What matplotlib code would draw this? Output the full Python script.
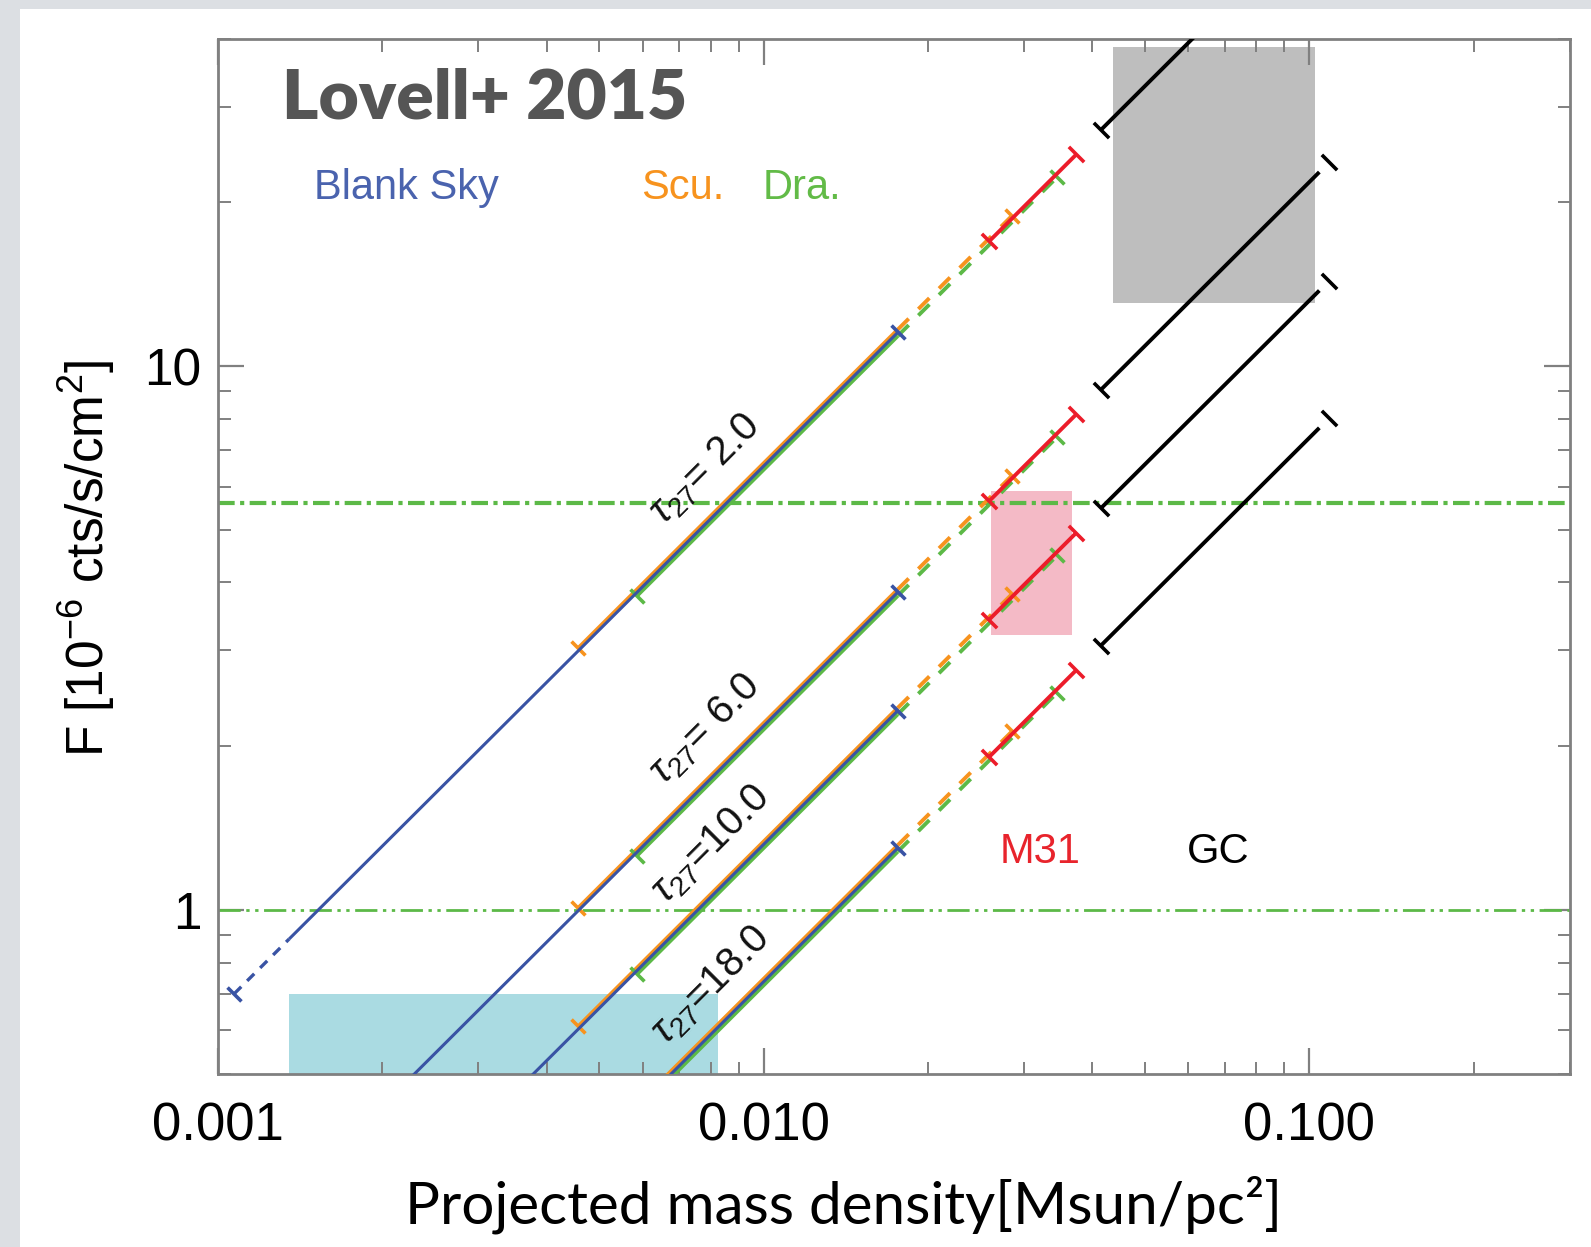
import numpy as np
import matplotlib
matplotlib.use("Agg")
import matplotlib.pyplot as plt
from matplotlib.path import Path
from matplotlib.patches import Rectangle
from matplotlib.ticker import FixedLocator, FixedFormatter, LogLocator, NullFormatter

plt.rcParams['font.family'] = ['Liberation Sans', 'DejaVu Sans']
plt.rcParams['mathtext.fontset'] = 'custom'
plt.rcParams['mathtext.rm'] = 'Liberation Sans'
plt.rcParams['mathtext.it'] = 'Liberation Sans:italic'

# --- data ---
tau_values = [2.0, 6.0, 10.0, 18.0]
tau_text = [r"$\tau_{27}$= 2.0", r"$\tau_{27}$= 6.0", r"$\tau_{27}$=10.0", r"$\tau_{27}$=18.0"]
flux_at_001 = [6.55, 2.18, 1.32, 0.738]   # F of each tau line at Sigma = 0.01 (lines have slope 1)

# Sigma ranges [Msun/pc^2] of each target's segment
blank_dashed = [0.00107, 0.00135]
blank_solid = [0.00135, 0.0176]
blank_marks = [0.00107, 0.0176]
scu_solid = [0.00457, 0.0176]
scu_dashed = [0.0176, 0.0285]
scu_marks = [0.00457, 0.0285]
dra_solid = [0.00585, 0.0176]
dra_dashed = [0.0176, 0.0345]
dra_marks = [0.00585, 0.0345]
m31_solid = [0.0259, 0.0374]
m31_marks = [0.0259, 0.0374]
gc_solid = [0.0415, 0.1043]
gc_marks = [0.0415, 0.1088]

# small vertical offsets between overlapping target lines
scu_shift = 1.012
dra_shift = 0.985

# Dra. flux limits (horizontal lines)
dra_limits = [5.6, 1.0]

# shaded regions: (Sigma_lo, Sigma_hi, F_lo, F_hi)
dsph_box = [0.00135, 0.00825, 0.45, 0.70]
m31_box = [0.0261, 0.0367, 3.20, 5.90]
gc_box = [0.0436, 0.1022, 13.05, 38.6]

xtick_values = [0.001, 0.01, 0.1]
xtick_labels = ["0.001", "0.010", "0.100"]
ytick_values = [1, 10]
ytick_labels = ["1", "10"]

BLUE = '#3953A4'
ORANGE = '#F7931E'
GREEN = '#5CB947'
RED = '#EC1C2A'

fig = plt.figure(figsize=(15.91, 12.47), dpi=100)
fig.patch.set_facecolor('#DCDFE3')
fig.add_artist(Rectangle((20 / 1591, 0), 1, 1 - 9 / 1247, transform=fig.transFigure,
                         facecolor='white', edgecolor='none', zorder=-10))
ax = fig.add_axes([0.1371, 0.1391, 0.8495, 0.8299])
ax.set_xscale('log')
ax.set_yscale('log')
ax.set_xlim(0.001, 0.3)
ax.set_ylim(0.5, 40)

# perpendicular bar marker (lines run at 45 deg on screen)
bar = Path([(-1, 1), (1, -1)], [Path.MOVETO, Path.LINETO])

for box, col in [(dsph_box, '#AADBE2'), (m31_box, '#F4BAC6'), (gc_box, '#BEBEBE')]:
    ax.add_patch(Rectangle((box[0], box[2]), box[1] - box[0], box[3] - box[2],
                           facecolor=col, edgecolor='none', zorder=1))

ax.axhline(dra_limits[0], color=GREEN, lw=3, ls=(0, (4.0, 1.3, 1.0, 1.3)), zorder=2)
ax.axhline(dra_limits[1], color=GREEN, lw=2, ls=(0, (8, 2, 1.2, 2, 1.2, 2)), zorder=2)


def segment(rng, norm, color, ls, lw, z):
    s = np.array(rng)
    ax.plot(s, norm * s / 0.01, color=color, ls=ls, lw=lw, zorder=z,
            solid_capstyle='butt', dash_capstyle='butt')


def marks(pts, norm, color, ms, z):
    s = np.array(pts)
    ax.plot(s, norm * s / 0.01, ls='none', marker=bar, ms=ms, mec=color, mew=2.6, zorder=z)


for norm in flux_at_001:
    segment(blank_dashed, norm, BLUE, (0, (3, 2.5)), 2.4, 4)
    segment(blank_solid, norm, BLUE, '-', 2.2, 4)
    marks(blank_marks, norm, BLUE, 10, 4)
    segment(scu_solid, norm * scu_shift, ORANGE, '-', 2.8, 3)
    segment(scu_dashed, norm * scu_shift, ORANGE, (0, (4, 3.5)), 2.8, 3)
    marks(scu_marks, norm * scu_shift, ORANGE, 10, 3)
    segment(dra_solid, norm * dra_shift, GREEN, '-', 2.8, 3.5)
    segment(dra_dashed, norm * dra_shift, GREEN, (0, (4, 3.5)), 2.8, 3.5)
    marks(dra_marks, norm * dra_shift, GREEN, 10, 3.5)
    segment(m31_solid, norm, RED, '-', 2.8, 5)
    marks(m31_marks, norm, RED, 11, 5)
    segment(gc_solid, norm, 'black', '-', 2.8, 5)
    marks(gc_marks, norm, 'black', 11, 5)

# tau labels
tau_label_x = [0.0078, 0.0078, 0.0080, 0.0080]
tau_label_y = [6.46, 2.15, 1.32, 0.725]
for tx, ty, t in zip(tau_label_x, tau_label_y, tau_text):
    ax.text(tx, ty, t, rotation=45, rotation_mode='anchor', ha='center', va='center',
            fontsize=29, color='#111111', zorder=6)

ax.text(0.047, 0.942, "Lovell+ 2015", transform=ax.transAxes, fontsize=50, fontweight='heavy',
        family='Lato', color='#555555', ha='left', va='center')
ax.text(0.0713, 0.856, "Blank Sky", transform=ax.transAxes, fontsize=30, color='#4A63AE',
        ha='left', va='center')
ax.text(0.313, 0.856, "Scu.", transform=ax.transAxes, fontsize=30, color=ORANGE,
        ha='left', va='center')
ax.text(0.403, 0.856, "Dra.", transform=ax.transAxes, fontsize=30, color='#62BB47',
        ha='left', va='center')
ax.text(0.578, 0.2137, "M31", transform=ax.transAxes, fontsize=30, color='#E8242C',
        ha='left', va='center')
ax.text(0.717, 0.2137, "GC", transform=ax.transAxes, fontsize=30, color='black',
        ha='left', va='center')

# ticks
ax.xaxis.set_major_locator(FixedLocator(xtick_values))
ax.xaxis.set_major_formatter(FixedFormatter(xtick_labels))
ax.yaxis.set_major_locator(FixedLocator(ytick_values))
ax.yaxis.set_major_formatter(FixedFormatter(ytick_labels))
for a in (ax.xaxis, ax.yaxis):
    a.set_minor_locator(LogLocator(base=10, subs=np.arange(2, 10)))
    a.set_minor_formatter(NullFormatter())
ax.tick_params(which='both', direction='in', top=True, right=True, color='#808080')
ax.tick_params(which='major', length=19, width=1.6)
ax.tick_params(which='minor', length=9, width=1.4)
ax.tick_params(axis='x', which='major', labelsize=38, pad=20)
ax.tick_params(axis='y', which='major', labelsize=37, pad=12)
for sp in ax.spines.values():
    sp.set_color('#808080')
    sp.set_linewidth(2)

ax.set_xlabel("Projected mass density[Msun/pc\u00b2]", fontsize=42, family='Lato')
ax.xaxis.set_label_coords(0.463, -0.127)
ax.xaxis.label.set_verticalalignment('center')
ax.set_ylabel(r"F [10$^{-6}$ cts/s/cm$^2$]", fontsize=37)
ax.yaxis.set_label_coords(-0.0976, 0.498)
ax.yaxis.label.set_verticalalignment('center')

fig.savefig("out.png", dpi=100, facecolor=fig.get_facecolor())
